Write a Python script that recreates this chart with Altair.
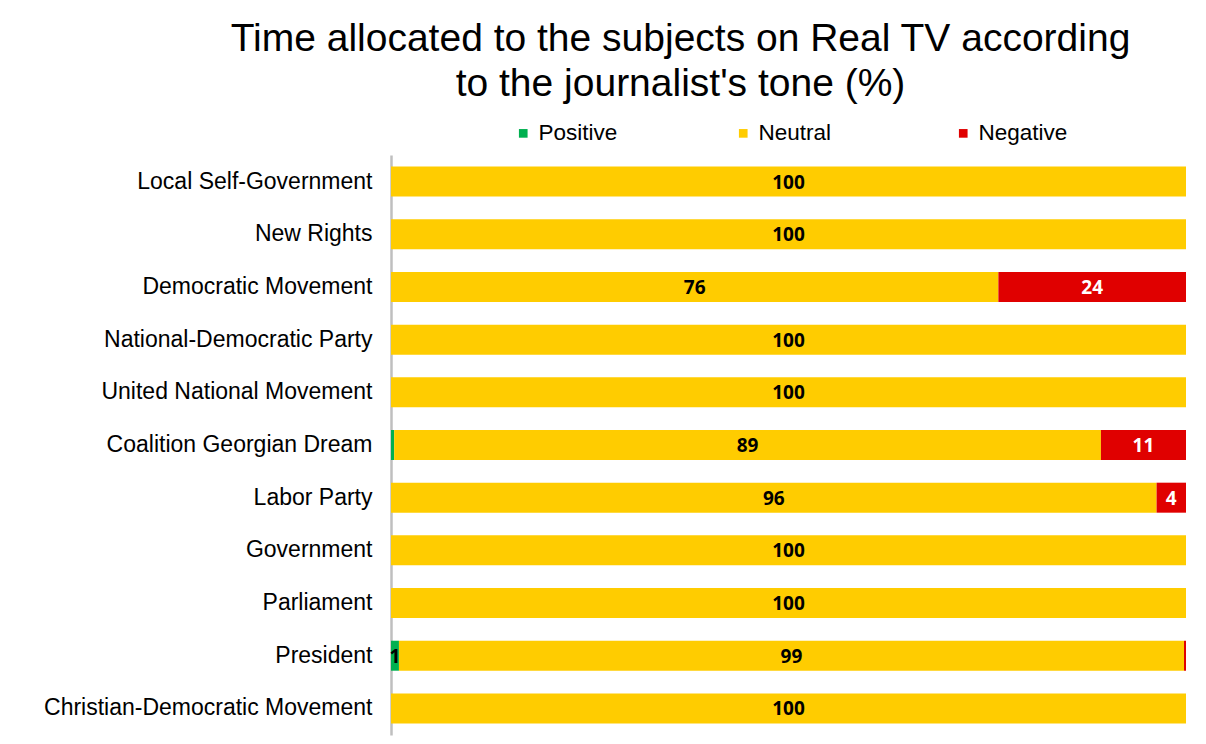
import altair as alt
import pandas as pd

subjects = [
    "Local Self-Government",
    "New Rights",
    "Democratic Movement",
    "National-Democratic Party",
    "United National Movement",
    "Coalition Georgian Dream",
    "Labor Party",
    "Government",
    "Parliament",
    "President",
    "Christian-Democratic Movement",
]
positive = [0, 0, 0, 0, 0, 0.4, 0, 0, 0, 1.0, 0]
neutral = [100, 100, 76.4, 100, 100, 88.9, 96.3, 100, 100, 98.75, 100]
negative = [0, 0, 23.6, 0, 0, 10.7, 3.7, 0, 0, 0.25, 0]
tones = ["Positive", "Neutral", "Negative"]
colors = ["#00B050", "#FFCC00", "#E00000"]

rows = []
for i, s in enumerate(subjects):
    start = 0.0
    for t, vals in zip(tones, [positive, neutral, negative]):
        v = vals[i]
        rows.append({"subject": s, "tone": t, "value": v, "start": start,
                     "end": start + v, "mid": start + v / 2,
                     "label": f"{v:.0f}" if v >= 0.5 else ""})
        start += v
df = pd.DataFrame(rows)
df = df[df["value"] > 0]

FONT = "Liberation Sans"

y = alt.Y("subject:N", sort=subjects, title=None,
          scale=alt.Scale(paddingInner=0.43, paddingOuter=0.22),
          axis=alt.Axis(domainColor="#BFBFBF", domainWidth=2.5, ticks=False,
                        labelFont=FONT, labelFontSize=23, labelColor="#000000",
                        labelPadding=19, labelLimit=400))

bars = alt.Chart(df).mark_bar(size=30).encode(
    x=alt.X("start:Q", scale=alt.Scale(domain=[0, 100], nice=False), axis=None),
    x2="end:Q",
    y=y,
    color=alt.Color("tone:N", sort=tones,
                    scale=alt.Scale(domain=tones, range=colors),
                    legend=alt.Legend(title=None, orient="none", direction="horizontal",
                                      legendX=121, legendY=-33, symbolType="square",
                                      symbolSize=75, symbolStrokeWidth=0,
                                      labelFont=FONT, labelFontSize=22.5,
                                      labelColor="#000000", labelOffset=4,
                                      columns=3, gridAlign="all", columnPadding=104)),
    order=alt.Order("start:Q"),
)

labels = alt.Chart(df).mark_text(font="Open Sans", fontWeight="bold", fontSize=19, dy=1).encode(
    x=alt.X("mid:Q"),
    y=alt.Y("subject:N", sort=subjects),
    text="label:N",
    color=alt.condition(alt.datum.tone == "Negative", alt.value("#FFFFFF"), alt.value("#000000")),
)

chart = alt.layer(bars, labels).properties(
    width=795, height=580,
    title=alt.TitleParams(
        ["Time allocated to the subjects on Real TV according", "to the journalist's tone (%)"],
        font=FONT, fontSize=39, fontWeight="normal", color="#000000",
        anchor="middle", frame="group", dx=-108, offset=18, lineHeight=45,
    ),
    autosize=alt.AutoSizeParams(type="none"),
    padding={"left": 383, "top": 147, "right": 12, "bottom": 8},
).configure_view(stroke=None)

chart.save("out.html", embed_options={"renderer": "svg", "actions": False})
